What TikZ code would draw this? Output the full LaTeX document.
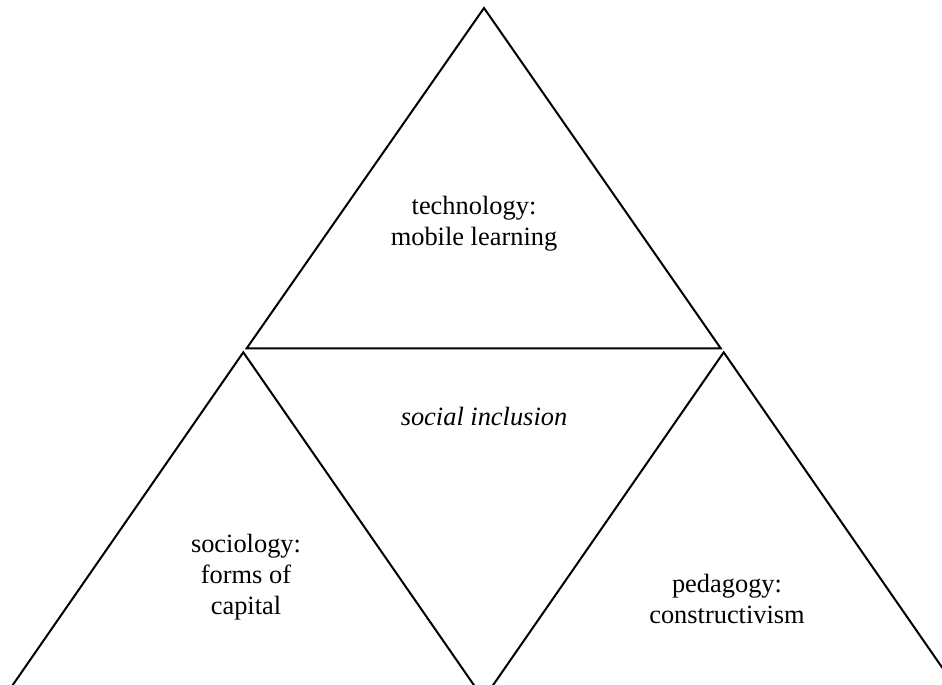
\documentclass[tikz,border=0pt]{standalone}
\usepackage{fontspec}
\setmainfont{Liberation Serif}
\begin{document}
\begin{tikzpicture}[x=0.5pt,y=-0.5pt,line width=1pt,
    lbl/.style={align=center,font=\fontsize{13.2}{15.4}\selectfont}]
  \useasboundingbox (0,0) rectangle (942,685);
  \clip (0,0) rectangle (942,685);
  % three outer triangles
  \coordinate (techTop) at (484,8);
  \coordinate (techL) at (246.7,348.3);
  \coordinate (techR) at (720.7,348.3);
  \coordinate (socTop) at (243.3,352.3);
  \coordinate (socL) at (-11.5,720);
  \coordinate (socR) at (498.1,720);
  \coordinate (pedTop) at (723.7,352.3);
  \coordinate (pedL) at (468.9,720);
  \coordinate (pedR) at (978.5,720);
  \draw (techTop) -- (techL) -- (techR) -- cycle;
  \draw (socL) -- (socTop) -- (socR) -- cycle;
  \draw (pedL) -- (pedTop) -- (pedR) -- cycle;
  % labels
  \node[lbl] (tech) at (474,224) {technology:\\mobile learning};
  \node[lbl,font=\fontsize{13.2}{15.4}\selectfont\itshape] (incl) at (484,416) {social inclusion};
  \node[lbl] (soc) at (246,577) {sociology:\\forms of\\capital};
  \node[lbl] (ped) at (727,599) {pedagogy:\\constructivism};
\end{tikzpicture}
\end{document}
